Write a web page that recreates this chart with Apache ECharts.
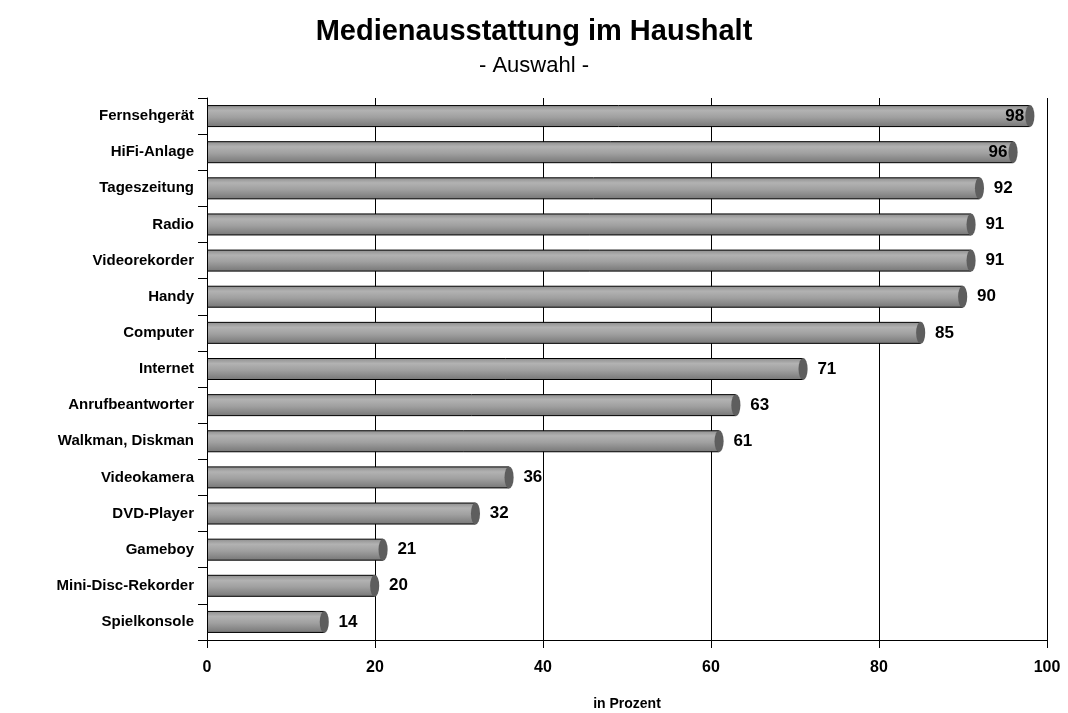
<!DOCTYPE html>
<html>
<head>
<meta charset="utf-8">
<style>
  html, body { margin: 0; padding: 0; background: #fff; }
  #main { width: 1068px; height: 713px; }
</style>
<script src="https://cdn.jsdelivr.net/npm/echarts@6/dist/echarts.min.js"></script>
</head>
<body>
<div id="main"></div>
<script>
  // Medienausstattung im Haushalt
  var categories = ['Fernsehgerät', 'HiFi-Anlage', 'Tageszeitung', 'Radio', 'Videorekorder', 'Handy',
    'Computer', 'Internet', 'Anrufbeantworter', 'Walkman, Diskman', 'Videokamera', 'DVD-Player',
    'Gameboy', 'Mini-Disc-Rekorder', 'Spielkonsole'];
  var values = [98, 96, 92, 91, 91, 90, 85, 71, 63, 61, 36, 32, 21, 20, 14];
  var xTicks = [0, 20, 40, 60, 80, 100];

  var font = '"Liberation Sans", Arial, sans-serif';

  var myChart = echarts.init(document.getElementById('main'));
  myChart.setOption({
    animation: false,
    title: {
      text: 'Medienausstattung im Haushalt',
      subtext: '- Auswahl -',
      left: 'center',
      top: 12,
      itemGap: 9,
      textStyle: { fontFamily: font, fontSize: 29, fontWeight: 'bold', color: '#000' },
      subtextStyle: { fontFamily: font, fontSize: 22, color: '#000' }
    },
    grid: {
      left: 207,
      right: 21,
      top: 98,
      bottom: 73,
      outerBoundsMode: 'none'
    },
    xAxis: {
      type: 'value',
      min: xTicks[0],
      max: xTicks[xTicks.length - 1],
      interval: 20,
      name: 'in Prozent',
      nameLocation: 'middle',
      nameGap: 57,
      nameTextStyle: { fontFamily: font, fontSize: 14, fontWeight: 'bold', color: '#000' },
      axisLine: { show: true, lineStyle: { color: '#000', width: 1 } },
      axisTick: { show: true, length: 8, lineStyle: { color: '#000' } },
      axisLabel: { fontFamily: font, fontSize: 16, fontWeight: 'bold', color: '#000', margin: 20 },
      splitLine: { show: true, lineStyle: { color: '#000', width: 1 } }
    },
    yAxis: {
      type: 'category',
      inverse: true,
      data: categories,
      axisLine: { show: true, lineStyle: { color: '#000', width: 1 } },
      axisTick: { show: true, length: 9, lineStyle: { color: '#000' } },
      axisLabel: { fontFamily: font, fontSize: 15, fontWeight: 'bold', color: '#000', margin: 13 }
    },
    series: [
      {
        type: 'bar',
        barWidth: 22,
        barGap: '-100%',
        z: 2,
        itemStyle: {
          borderColor: '#000',
          borderWidth: 1,
          color: new echarts.graphic.LinearGradient(0, 0, 0, 1, [
            { offset: 0, color: '#8c8c8c' },
            { offset: 0.25, color: '#b2b2b2' },
            { offset: 0.55, color: '#a0a0a0' },
            { offset: 1, color: '#767676' }
          ])
        },
        label: {
          show: true,
          position: 'right',
          distance: 14,
          fontFamily: font,
          fontSize: 17,
          fontWeight: 'bold',
          color: '#000'
        },
        data: values.map(function (v) {
          return v >= 95 ? { value: v, label: { position: 'insideRight', distance: 6 } } : v;
        })
      },
      {
        type: 'pictorialBar',
        symbol: 'circle',
        symbolSize: [9, 22],
        symbolPosition: 'end',
        symbolOffset: ['50%', 0],
        z: 3,
        itemStyle: { color: '#5e5e5e', borderColor: '#000', borderWidth: 1 },
        data: values
      }
    ]
  });

  window.addEventListener('resize', function () {
    myChart.resize();
  });
</script>
</body>
</html>
